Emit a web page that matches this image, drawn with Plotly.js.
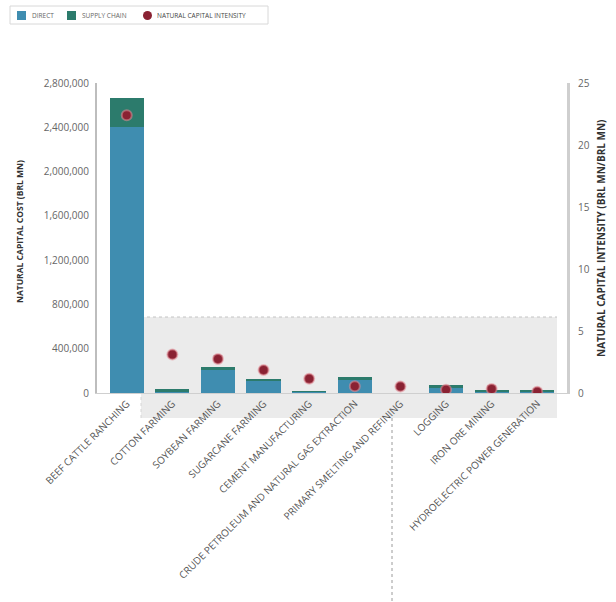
<!DOCTYPE html>
<html>
<head>
<meta charset="utf-8">
<script src="https://cdn.plot.ly/plotly-3.0.1.min.js"></script>
<style>
  html, body { margin: 0; padding: 0; background: #ffffff; }
  #chart { width: 616px; height: 602px; }
</style>
</head>
<body>
<div id="chart"></div>
<script>
// Industries ranked by natural capital cost
const industries = [
  "BEEF CATTLE RANCHING",
  "COTTON FARMING",
  "SOYBEAN FARMING",
  "SUGARCANE FARMING",
  "CEMENT MANUFACTURING",
  "CRUDE PETROLEUM AND NATURAL GAS EXTRACTION",
  "PRIMARY SMELTING AND REFINING",
  "LOGGING",
  "IRON ORE MINING",
  "HYDROELECTRIC POWER GENERATION"
];

// Natural capital cost, BRL MN
const directCost      = [2400000, 8000, 205000, 108000, 5000, 118000, 2000, 48000, 8000, 6000];
const supplyChainCost = [ 265000, 30000, 30000, 15000, 13000, 30000, 1000, 25000, 22000, 21000];

// Natural capital intensity, BRL MN per BRL MN of revenue
const intensity = [22.4, 3.1, 2.75, 1.85, 1.15, 0.55, 0.52, 0.27, 0.33, 0.1];

// Axis ticks
const costTicks = [0, 400000, 800000, 1200000, 1600000, 2000000, 2400000, 2800000];
const costTickText = ["0", "400,000", "800,000", "1,200,000", "1,600,000", "2,000,000", "2,400,000", "2,800,000"];
const intensityTicks = [0, 5, 10, 15, 20, 25];

// Legend entries
const legendLabels = ["DIRECT", "SUPPLY CHAIN", "NATURAL CAPITAL INTENSITY"];

const COL_DIRECT = "#3f8db0";
const COL_SUPPLY = "#2c7b6c";
const COL_DOT = "#8a2233";

// Plot frame in pixels, used to place decorations in paper space
const W = 616, H = 602;
const M = { l: 97, r: 49, t: 83, b: 209 };
const PW = W - M.l - M.r, PH = H - M.t - M.b;
const px = v => (v - M.l) / PW;
const py = v => (H - M.b - v) / PH;

const FONT = "Open Sans, Liberation Sans, sans-serif";

const traces = [
  {
    type: "bar", name: legendLabels[0], x: industries, y: directCost,
    marker: { color: COL_DIRECT }, yaxis: "y", showlegend: false, hoverinfo: "y"
  },
  {
    type: "bar", name: legendLabels[1], x: industries, y: supplyChainCost,
    marker: { color: COL_SUPPLY }, yaxis: "y", showlegend: false, hoverinfo: "y"
  },
  {
    type: "scatter", mode: "markers", name: legendLabels[2], x: industries, y: intensity,
    yaxis: "y2", showlegend: false,
    marker: { color: COL_DOT, size: 10, line: { color: "rgba(226,140,150,0.55)", width: 2 } }
  }
];

// Light grey highlight panel behind the smaller industries
const shapes = [
  { type: "rect", xref: "paper", yref: "paper", layer: "below",
    x0: px(141), x1: px(557), y0: py(418), y1: py(317),
    fillcolor: "#ebebeb", line: { width: 0 } },
  { type: "line", xref: "paper", yref: "paper", layer: "below",
    x0: px(141), x1: px(557), y0: py(317), y1: py(317),
    line: { color: "#c4c4c4", width: 1, dash: "dot" } },
  { type: "line", xref: "paper", yref: "paper", layer: "below",
    x0: px(141), x1: px(141), y0: py(418), y1: py(317),
    line: { color: "#d6d6d6", width: 1, dash: "dot" } },
  // divider below the category labels
  { type: "line", xref: "paper", yref: "paper", layer: "above",
    x0: px(392), x1: px(392), y0: py(418), y1: py(602),
    line: { color: "#9a9a9a", width: 1, dash: "dot" } },
  // legend frame and keys
  { type: "rect", xref: "paper", yref: "paper",
    x0: px(10), x1: px(268), y0: py(24), y1: py(6),
    fillcolor: "#ffffff", line: { color: "#d8d8d8", width: 1 } },
  { type: "rect", xref: "paper", yref: "paper",
    x0: px(17), x1: px(26), y0: py(20), y1: py(11),
    fillcolor: COL_DIRECT, line: { width: 0 } },
  { type: "rect", xref: "paper", yref: "paper",
    x0: px(67), x1: px(76), y0: py(20), y1: py(11),
    fillcolor: COL_SUPPLY, line: { width: 0 } },
  { type: "circle", xref: "paper", yref: "paper",
    x0: px(143), x1: px(152), y0: py(20), y1: py(11),
    fillcolor: COL_DOT, line: { width: 0 } }
];

const legendFont = { family: FONT, size: 6.5, color: "#666" };
const annotations = [
  { xref: "paper", yref: "paper", x: px(30), y: py(15.5), xanchor: "left", yanchor: "middle",
    text: legendLabels[0], showarrow: false, font: legendFont },
  { xref: "paper", yref: "paper", x: px(80), y: py(15.5), xanchor: "left", yanchor: "middle",
    text: legendLabels[1], showarrow: false, font: legendFont },
  { xref: "paper", yref: "paper", x: px(155), y: py(15.5), xanchor: "left", yanchor: "middle",
    text: legendLabels[2], showarrow: false, font: { family: FONT, size: 6.5, color: "#444" } },
  // axis titles
  { xref: "paper", yref: "paper", x: px(20), y: py(232), xanchor: "center", yanchor: "middle",
    text: "<b>NATURAL CAPITAL COST (BRL MN)</b>", textangle: -90, showarrow: false,
    font: { family: FONT, size: 8.5, color: "#333" } },
  { xref: "paper", yref: "paper", x: px(601), y: py(238), xanchor: "center", yanchor: "middle",
    text: "<b>NATURAL CAPITAL INTENSITY (BRL MN/BRL MN)</b>", textangle: -90, showarrow: false,
    font: { family: FONT, size: 10, color: "#333" } }
];

const layout = {
  width: W, height: H,
  margin: M,
  paper_bgcolor: "#ffffff",
  plot_bgcolor: "rgba(0,0,0,0)",
  barmode: "stack",
  bargap: 0.25,
  showlegend: false,
  font: { family: FONT, color: "#555" },
  xaxis: {
    type: "category",
    tickangle: -45,
    tickfont: { family: FONT, size: 10, color: "#555" },
    showline: true, linecolor: "#cfcfcf", linewidth: 1,
    ticks: "", showgrid: false, zeroline: false,
    automargin: false
  },
  yaxis: {
    range: [0, 2800000],
    tickvals: costTicks, ticktext: costTickText,
    tickfont: { family: FONT, size: 10, color: "#666" },
    showline: true, linecolor: "#bdbdbd", linewidth: 2,
    showgrid: false, zeroline: false, ticks: "", ticklabelstandoff: 4,
    automargin: false
  },
  yaxis2: {
    overlaying: "y", side: "right",
    range: [0, 25],
    tickvals: intensityTicks,
    tickfont: { family: FONT, size: 10, color: "#666" },
    showline: true, linecolor: "#cfcfcf", linewidth: 3,
    showgrid: false, zeroline: false, ticks: "", ticklabelstandoff: 6,
    automargin: false
  },
  shapes: shapes,
  annotations: annotations
};

Plotly.newPlot("chart", traces, layout, { displayModeBar: false, staticPlot: true });
</script>
</body>
</html>
